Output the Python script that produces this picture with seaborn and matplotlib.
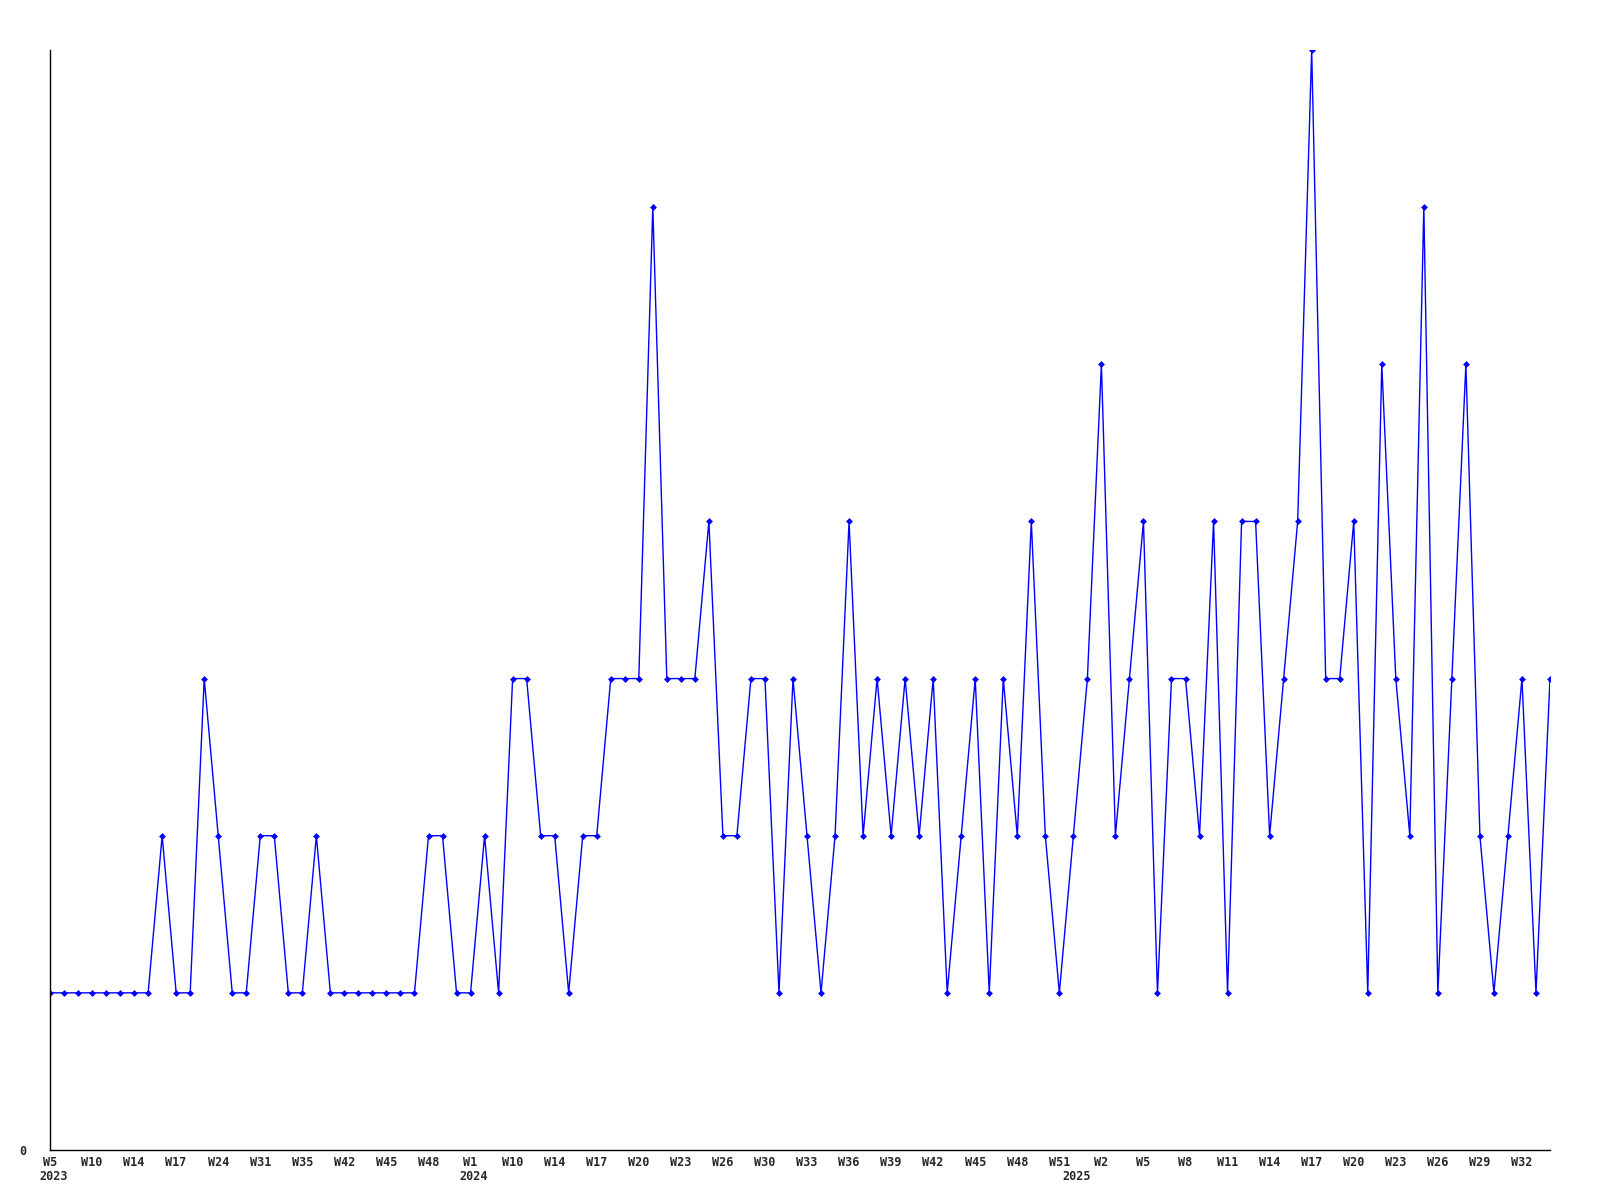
import numpy as np
import pandas as pd
import matplotlib
matplotlib.use('Agg')
import matplotlib.pyplot as plt
import seaborn as sns

# conteggi settimanali
valori = [1, 1, 1, 1, 1, 1, 1, 1, 2, 1, 1, 3, 2, 1, 1, 2, 2, 1, 1, 2,
          1, 1, 1, 1, 1, 1, 1, 2, 2, 1, 1, 2, 1, 3, 3, 2, 2, 1, 2, 2,
          3, 3, 3, 6, 3, 3, 3, 4, 2, 2, 3, 3, 1, 3, 2, 1, 2, 4, 2, 3,
          2, 3, 2, 3, 1, 2, 3, 1, 3, 2, 4, 2, 1, 2, 3, 5, 2, 3, 4, 1,
          3, 3, 2, 4, 1, 4, 4, 2, 3, 4, 7, 3, 3, 4, 1, 5, 3, 2, 6, 1,
          3, 5, 2, 1, 2, 3, 1, 3]

# etichette settimana (una ogni 3 punti)
etichette_sett = ['W5', 'W10', 'W14', 'W17', 'W24', 'W31', 'W35', 'W42', 'W45', 'W48',
                  'W1', 'W10', 'W14', 'W17', 'W20', 'W23', 'W26', 'W30', 'W33', 'W36',
                  'W39', 'W42', 'W45', 'W48', 'W51', 'W2', 'W5', 'W8', 'W11', 'W14',
                  'W17', 'W20', 'W23', 'W26', 'W29', 'W32']
passo_etichette = 3

anni = ['2023', '2024', '2025']
inizio_anno = [0, 30, 73]  # indice del primo punto di ogni anno

df = pd.DataFrame({'punto': np.arange(len(valori)), 'conteggio': valori})

sns.set_style('white')
plt.rcParams['font.family'] = ['DejaVu Sans Mono', 'DejaVu Sans']

fig = plt.figure(figsize=(16, 12), dpi=100)
ax = fig.add_axes([50 / 1600, 50 / 1200, 1500 / 1600, 1100 / 1200])

sns.lineplot(data=df, x='punto', y='conteggio', ax=ax, color='#0000ff',
             linewidth=1.0, marker='D', markersize=3.5, markeredgewidth=0)

ax.set_xlim(0, len(valori) - 1)
ax.set_ylim(0, max(valori))

ax.set_xticks(np.arange(len(etichette_sett)) * passo_etichette)
ax.set_xticklabels(etichette_sett, fontsize=8.5, fontweight='bold')
ax.set_yticks([0])
ax.set_yticklabels(['0'], fontsize=8.5, fontweight='bold')
ax.tick_params(axis='x', length=0, pad=4)
ax.tick_params(axis='y', length=0, pad=17)
ax.set_xlabel('')
ax.set_ylabel('')

# anno sotto la prima settimana di ogni anno
for anno, idx in zip(anni, inizio_anno):
    ax.annotate(anno, xy=(idx, 0), xycoords=('data', 'axes fraction'),
                xytext=(2.5, -14.5), textcoords='offset points', ha='center', va='top',
                fontsize=8.5, fontweight='bold')

sns.despine(ax=ax, top=True, right=True)
ax.spines['left'].set_color('black')
ax.spines['bottom'].set_color('black')
ax.spines['left'].set_linewidth(1)
ax.spines['bottom'].set_linewidth(1)

plt.savefig('out.png', dpi=100)
